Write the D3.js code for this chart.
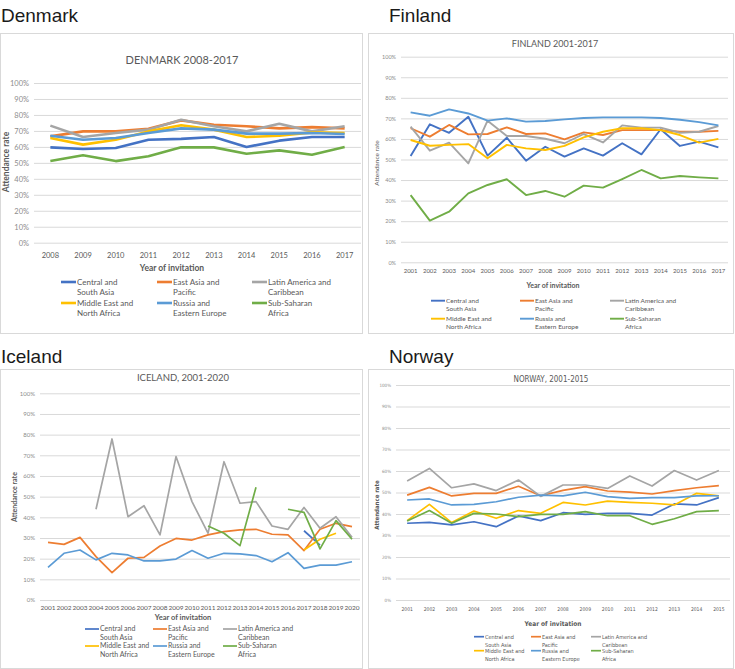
<!DOCTYPE html>
<html>
<head>
<meta charset="utf-8">
<script src="https://cdn.jsdelivr.net/npm/d3@7"></script>
<style>
  body { margin: 0; background: #fff; }
  svg { display: block; }
  .header { font-family: "Liberation Sans", Arial, sans-serif; font-weight: 400; }
</style>
</head>
<body>
<svg id="chart" width="735" height="669"></svg>
<script>
// series shared by all four charts
const seriesNames = [
  ["Central and", "South Asia"],
  ["East Asia and", "Pacific"],
  ["Latin America and", "Caribbean"],
  ["Middle East and", "North Africa"],
  ["Russia and", "Eastern Europe"],
  ["Sub-Saharan", "Africa"]
];
const seriesColors = ["#4472C4", "#ED7D31", "#A5A5A5", "#FFC000", "#5B9BD5", "#70AD47"];
const yTicks = [0, 10, 20, 30, 40, 50, 60, 70, 80, 90, 100];

// Denmark 2008-2017
const denmarkYears = ["2008", "2009", "2010", "2011", "2012", "2013", "2014", "2015", "2016", "2017"];
const denmarkRates = [
  [59.7, 58.7, 59.3, 64.5, 65.0, 66.2, 59.9, 63.9, 66.2, 66.2],
  [66.6, 69.7, 69.7, 71.4, 76.6, 73.9, 72.9, 71.6, 72.4, 71.6],
  [73.3, 66.2, 68.7, 70.8, 77.0, 72.9, 69.7, 74.5, 69.7, 72.9],
  [65.6, 61.4, 64.5, 69.7, 73.5, 70.8, 66.2, 67.0, 69.1, 68.7],
  [67.0, 64.5, 65.6, 68.7, 71.6, 70.8, 68.3, 68.3, 68.7, 68.1],
  [51.1, 54.7, 51.1, 54.1, 59.7, 59.7, 55.7, 57.8, 55.1, 59.9]
];

// Finland 2001-2017
const finlandYears = ["2001", "2002", "2003", "2004", "2005", "2006", "2007", "2008", "2009",
  "2010", "2011", "2012", "2013", "2014", "2015", "2016", "2017"];
const finlandRates = [
  [51.7, 67.1, 63.0, 70.8, 51.9, 60.6, 49.4, 56.2, 51.4, 55.4, 51.9, 57.9, 52.5, 64.7, 56.6, 58.7, 55.9],
  [65.2, 61.1, 66.8, 62.2, 62.4, 65.6, 62.4, 62.7, 59.8, 63.2, 61.9, 64.3, 64.3, 64.3, 63.5, 63.5, 63.9],
  [66.0, 54.3, 58.2, 48.1, 68.9, 61.4, 61.4, 60.1, 57.9, 62.4, 58.3, 66.6, 65.5, 65.5, 63.0, 63.5, 66.3],
  [59.5, 56.7, 57.1, 57.5, 50.6, 57.1, 55.4, 54.6, 56.6, 60.8, 63.5, 65.2, 65.2, 64.3, 61.9, 58.2, 60.0],
  [72.9, 71.3, 74.4, 72.4, 68.9, 70.0, 68.4, 68.7, 69.5, 70.2, 70.5, 70.5, 70.5, 70.2, 69.3, 68.2, 66.6],
  [32.7, 20.3, 24.6, 33.5, 37.6, 40.4, 32.7, 34.7, 31.9, 37.3, 36.3, 40.5, 44.9, 40.8, 42.0, 41.3, 40.8]
];

// Iceland 2001-2020 (null = no value that year)
const icelandYears = ["2001", "2002", "2003", "2004", "2005", "2006", "2007", "2008", "2009", "2010",
  "2011", "2012", "2013", "2014", "2015", "2016", "2017", "2018", "2019", "2020"];
const icelandRates = [
  [null, null, null, null, null, null, null, null, null, null, null, null, null, null, null, null, 33.5, 26.6, null, null],
  [27.9, 26.9, 30.3, 21.0, 13.2, 20.2, 20.6, 26.1, 29.8, 29.0, 31.5, 33.1, 33.9, 34.2, 31.8, 31.5, 23.9, 34.2, 37.1, 35.5],
  [null, null, null, 43.9, 77.9, 40.3, 45.6, 31.5, 69.4, 47.6, 32.3, 66.9, 46.8, 47.6, 35.8, 34.2, 44.8, 34.7, 40.3, 30.3],
  [null, null, null, null, null, null, null, null, null, null, null, null, null, null, null, null, 24.2, 29.4, 32.3, null],
  [15.8, 22.6, 24.2, 19.4, 22.6, 21.8, 18.9, 18.9, 19.8, 23.9, 20.2, 22.6, 22.3, 21.5, 18.5, 22.9, 15.3, 16.9, 16.9, 18.5],
  [null, null, null, null, null, null, null, null, null, null, 35.8, 32.3, 26.3, 54.5, null, 43.9, 42.4, 24.7, 38.4, 29.4]
];

// Norway 2001-2015
const norwayYears = ["2001", "2002", "2003", "2004", "2005", "2006", "2007", "2008",
  "2009", "2010", "2011", "2012", "2013", "2014", "2015"];
const norwayRates = [
  [35.7, 36.1, 34.9, 36.4, 34.1, 39.1, 36.9, 40.6, 39.8, 40.3, 40.3, 39.5, 44.7, 44.2, 47.6],
  [48.8, 52.4, 48.4, 49.6, 49.6, 52.9, 48.5, 51.0, 52.7, 50.7, 50.2, 49.3, 50.9, 52.2, 53.2],
  [55.3, 61.2, 52.2, 54.0, 50.9, 55.8, 48.2, 53.5, 53.5, 51.9, 57.7, 53.0, 60.2, 55.8, 60.2],
  [36.9, 44.5, 36.0, 41.4, 38.0, 41.6, 40.3, 45.4, 44.2, 46.0, 45.4, 45.0, 44.2, 49.6, 48.4],
  [46.5, 47.0, 44.2, 44.5, 45.7, 47.8, 48.8, 48.4, 50.1, 48.1, 47.3, 47.6, 47.6, 48.4, 48.5],
  [36.7, 41.6, 35.7, 40.3, 40.0, 38.8, 39.8, 39.8, 41.1, 39.2, 39.2, 35.2, 37.8, 41.1, 41.6]
];

const calibri = "Lato, 'Open Sans', sans-serif";
const narrow = "'Liberation Sans Narrow', 'DejaVu Sans Condensed', sans-serif";

// layout of each of the four panels
const panels = [
  {
    header: "Denmark", hx: 1, hy: 22,
    title: "DENMARK 2008-2017", years: denmarkYears, rates: denmarkRates,
    box: { x: 0.5, y: 33.5, w: 362, h: 300 },
    plot: { left: 34, right: 361, top: 83, bottom: 242.7 },
    font: calibri, titleFont: 11, titleY: 60, titleX: 182,
    tickFont: 7.5, tickColor: "#8c8c8c", xLabelY: 255, xFont: 7.5,
    axisTitle: { x: 172, y: 268, size: 8.5 },
    yTitle: { x: 6, y: 162, size: 8.5, bold: true },
    legend: { cols: [61, 157, 252], rows: [282, 303], lineH: 10, size: 8, marker: 15 },
    lineWidth: 2.6
  },
  {
    header: "Finland", hx: 389, hy: 22,
    title: "FINLAND 2001-2017", years: finlandYears, rates: finlandRates,
    box: { x: 368.5, y: 33.5, w: 365, h: 300 },
    plot: { left: 401, right: 728, top: 56.7, bottom: 262.3 },
    font: calibri, titleFont: 9, titleY: 44, titleX: 555,
    tickFont: 5.5, tickColor: "#8c8c8c", xLabelY: 270.7, xFont: 6,
    axisTitle: { x: 553, y: 286, size: 7 },
    yTitle: { x: 377, y: 163, size: 6.5, bold: false },
    legend: { cols: [431, 520, 610], rows: [300.7, 318.7], lineH: 8.3, size: 6.5, marker: 14 },
    lineWidth: 1.9
  },
  {
    header: "Iceland", hx: 1, hy: 363,
    title: "ICELAND, 2001-2020", years: icelandYears, rates: icelandRates,
    box: { x: 0.5, y: 369.5, w: 362, h: 299 },
    plot: { left: 40, right: 360, top: 393.3, bottom: 600 },
    font: calibri, titleFont: 9.5, titleY: 378, titleX: 183,
    tickFont: 6, tickColor: "#8c8c8c", xLabelY: 608, xFont: 6.5,
    axisTitle: { x: 183, y: 617, size: 7.5 },
    yTitle: { x: 15, y: 497, size: 7, bold: true },
    legend: { cols: [85, 153, 223], rows: [629, 646], lineH: 8.3, size: 7, marker: 14 },
    lineWidth: 1.7
  },
  {
    header: "Norway", hx: 389, hy: 363,
    title: "NORWAY, 2001-2015", years: norwayYears, rates: norwayRates,
    box: { x: 368.5, y: 369.5, w: 365, h: 299 },
    plot: { left: 396, right: 730, top: 385, bottom: 600 },
    font: narrow, titleFont: 8, titleY: 379, titleX: 551,
    tickFont: 4.5, tickColor: "#8c8c8c", xLabelY: 609, xFont: 5,
    axisTitle: { x: 553, y: 624, size: 6.5 },
    yTitle: { x: 377, y: 505, size: 6, bold: true },
    legend: { cols: [474, 531, 591], rows: [636.7, 650.7], lineH: 8, size: 5.5, marker: 10 },
    lineWidth: 1.7
  }
];

const svg = d3.select("#chart");

panels.forEach(p => drawPanel(p));

function drawPanel(p) {
  const g = svg.append("g");

  g.append("text")
    .attr("class", "header")
    .attr("x", p.hx)
    .attr("y", p.hy)
    .attr("font-size", 19)
    .attr("fill", "#1a1a1a")
    .text(p.header);

  g.append("rect")
    .attr("x", p.box.x)
    .attr("y", p.box.y)
    .attr("width", p.box.w)
    .attr("height", p.box.h)
    .attr("fill", "#fff")
    .attr("stroke", "#d9d9d9");

  const { left, right, top, bottom } = p.plot;
  const x = d3.scaleBand().domain(p.years).range([left, right]);
  const y = d3.scaleLinear().domain([0, 100]).range([bottom, top]);

  // gridlines + y tick labels
  const yAxis = g.append("g")
    .attr("transform", `translate(${left},0)`)
    .call(d3.axisLeft(y).tickValues(yTicks).tickSize(-(right - left)).tickPadding(5)
      .tickFormat(d => d + "%"));
  yAxis.select(".domain").remove();
  yAxis.selectAll(".tick line").attr("stroke", "#d9d9d9");
  yAxis.selectAll(".tick text")
    .attr("font-family", p.font)
    .attr("font-size", p.tickFont)
    .attr("fill", p.tickColor);

  // year labels
  const xAxis = g.append("g")
    .attr("transform", `translate(0,${p.xLabelY})`)
    .call(d3.axisBottom(x).tickSize(0).tickPadding(0));
  xAxis.select(".domain").remove();
  xAxis.selectAll(".tick text")
    .attr("dy", "0.35em")
    .attr("font-family", p.font)
    .attr("font-size", p.xFont)
    .attr("fill", "#595959");

  g.append("text")
    .attr("x", p.titleX)
    .attr("y", p.titleY)
    .attr("dy", "0.35em")
    .attr("text-anchor", "middle")
    .attr("font-family", p.font)
    .attr("font-size", p.titleFont)
    .attr("fill", "#595959")
    .text(p.title);

  g.append("text")
    .attr("x", p.axisTitle.x)
    .attr("y", p.axisTitle.y)
    .attr("dy", "0.35em")
    .attr("text-anchor", "middle")
    .attr("font-family", p.font)
    .attr("font-weight", "bold")
    .attr("font-size", p.axisTitle.size)
    .attr("fill", "#595959")
    .text("Year of invitation");

  g.append("text")
    .attr("transform", `translate(${p.yTitle.x},${p.yTitle.y})rotate(-90)`)
    .attr("dy", "0.35em")
    .attr("text-anchor", "middle")
    .attr("font-family", p.font)
    .attr("font-weight", p.yTitle.bold ? "bold" : "normal")
    .attr("font-size", p.yTitle.size)
    .attr("fill", "#595959")
    .text("Attendance rate");

  // lines
  const line = d3.line()
    .defined(d => d.v != null)
    .x(d => x(d.year) + x.bandwidth() / 2)
    .y(d => y(d.v));

  p.rates.forEach((values, i) => {
    const pts = values.map((v, k) => ({ year: p.years[k], v }));
    g.append("path")
      .datum(pts)
      .attr("fill", "none")
      .attr("stroke", seriesColors[i])
      .attr("stroke-width", p.lineWidth)
      .attr("stroke-linejoin", "round")
      .attr("d", line);
  });

  // legend, 3 columns x 2 rows
  const lg = p.legend;
  seriesNames.forEach((name, i) => {
    const cx = lg.cols[i % 3];
    const cy = lg.rows[Math.floor(i / 3)];
    g.append("line")
      .attr("x1", cx).attr("x2", cx + lg.marker)
      .attr("y1", cy).attr("y2", cy)
      .attr("stroke", seriesColors[i])
      .attr("stroke-width", p.lineWidth);
    const t = g.append("text")
      .attr("font-family", p.font)
      .attr("font-size", lg.size)
      .attr("fill", "#595959");
    name.forEach((part, j) => {
      t.append("tspan")
        .attr("x", cx + lg.marker + 1)
        .attr("y", cy + j * lg.lineH)
        .attr("dy", "0.35em")
        .text(part);
    });
  });
}
</script>
</body>
</html>
